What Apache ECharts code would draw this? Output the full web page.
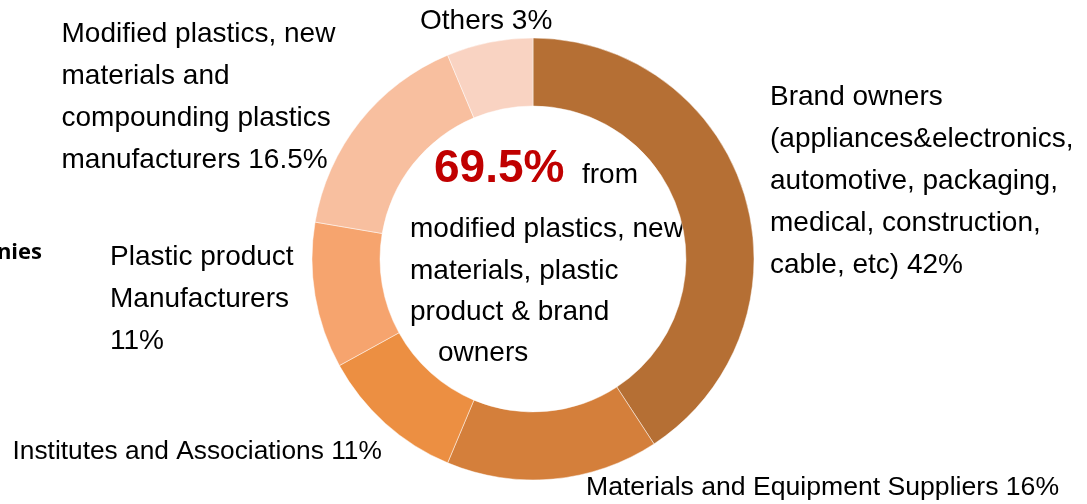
<!DOCTYPE html>
<html>
<head>
<meta charset="utf-8">
<script src="https://cdn.jsdelivr.net/npm/echarts@6/dist/echarts.min.js"></script>
<style>
html,body{margin:0;padding:0;background:#fff;}
#chart{width:1087px;height:504px;}
</style>
</head>
<body>
<div id="chart"></div>
<script>
var categories = [
  'Brand owners\n(appliances&electronics,\nautomotive, packaging,\nmedical, construction,\ncable, etc) 42%',
  'Materials and Equipment Suppliers 16%',
  'Institutes and Associations 11%',
  'Plastic product\nManufacturers\n11%',
  'Modified plastics, new\nmaterials and\ncompounding plastics\nmanufacturers 16.5%',
  'Others 3%'
];
var values = [42, 16, 11, 11, 16.5, 6.5];
var colors = ['#B56F34', '#D47F3B', '#EC8F42', '#F6A46E', '#F8BF9F', '#F9D3C2'];

// Label anchor positions and sizes (style, not data)
var labelPos = [
  {x: 770, y: 76.5},
  {x: 586, y: 466.5},
  {x: 12.5, y: 431},
  {x: 110, y: 236},
  {x: 61.5, y: 13},
  {x: 420, y: 0}
];
var labelSize = [28, 26.6, 26.3, 28, 28, 28];

var FONT = '"Liberation Sans", Arial, sans-serif';
var chart = echarts.init(document.getElementById('chart'), null, {renderer: 'canvas'});

var data = categories.map(function (c, i) {
  return {name: c, value: values[i], itemStyle: {color: colors[i]}, label: {fontSize: labelSize[i]}};
});

chart.setOption({
  animation: false,
  backgroundColor: '#fff',
  series: [{
    type: 'pie',
    center: [533, 259],
    radius: [153, 221],
    startAngle: 90,
    clockwise: true,
    avoidLabelOverlap: false,
    itemStyle: {borderColor: 'rgba(255,255,255,0.6)', borderWidth: 0.8},
    label: {
      show: true,
      position: 'outside',
      formatter: '{b}',
      color: '#000',
      fontFamily: FONT,
      fontSize: 28,
      lineHeight: 42,
      align: 'left'
    },
    labelLine: {show: false},
    labelLayout: function (p) {
      var pos = labelPos[p.dataIndex];
      return {x: pos.x, y: pos.y, align: 'left', verticalAlign: 'top'};
    },
    emphasis: {disabled: true},
    data: data
  }],
  graphic: [
    {type: 'text', x: 434, y: 169, style: {text: '69.5%', fill: '#C00000', font: 'bold 46px ' + FONT, textAlign: 'left', textVerticalAlign: 'middle'}},
    {type: 'text', x: 582, y: 175, style: {text: 'from', fill: '#000', font: '28px ' + FONT, textAlign: 'left', textVerticalAlign: 'middle'}},
    {type: 'text', x: 410, y: 209, style: {text: 'modified plastics, new\nmaterials, plastic\nproduct & brand', fill: '#000', font: '28px ' + FONT, lineHeight: 41.5, textAlign: 'left', textVerticalAlign: 'top'}},
    {type: 'text', x: 438, y: 332, style: {text: 'owners', fill: '#000', font: '28px ' + FONT, lineHeight: 42, textAlign: 'left', textVerticalAlign: 'top'}},
    {type: 'text', x: 42, y: 264, style: {text: 'Companies', fill: '#000', font: 'bold 22px "Open Sans", sans-serif', textAlign: 'right', textVerticalAlign: 'bottom'}}
  ]
});
</script>
</body>
</html>
